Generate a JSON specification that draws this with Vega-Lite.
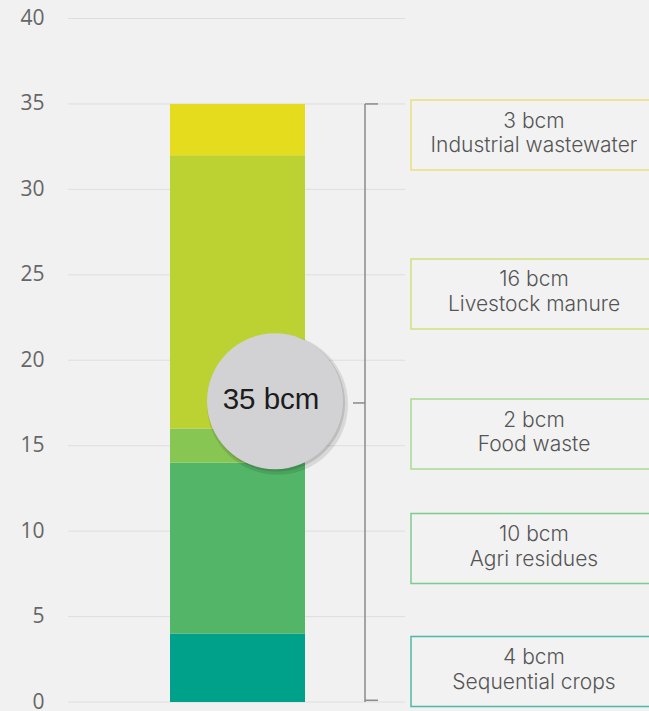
{
  "$schema": "https://vega.github.io/schema/vega-lite/v6.json",
  "width": 581,
  "height": 683.5,
  "autosize": {"type": "none"},
  "padding": {"left": 68, "top": 18.5, "right": 0, "bottom": 9},
  "background": "#f1f1f1",
  "config": {
    "view": {"stroke": null},
    "axisY": {
      "grid": false,
      "domain": false,
      "ticks": false,
      "tickSize": 0,
      "labelOverlap": false,
      "labelPadding": 24,
      "labelFont": "Open Sans",
      "labelFontSize": 21,
      "labelColor": "#666666"
    }
  },
  "datasets": {
    "sources": [
      {"source": "Sequential crops", "bcm": 4, "rank": 1, "labelY": 1.78},
      {"source": "Agri residues", "bcm": 10, "rank": 2, "labelY": 8.98},
      {"source": "Food waste", "bcm": 2, "rank": 3, "labelY": 15.68},
      {"source": "Livestock manure", "bcm": 16, "rank": 4, "labelY": 23.88},
      {"source": "Industrial wastewater", "bcm": 3, "rank": 5, "labelY": 33.18}
    ],
    "total": [{"total": 35}],
    "gridTicks": [
      {"v": 0}, {"v": 5}, {"v": 10}, {"v": 15}, {"v": 20},
      {"v": 25}, {"v": 30}, {"v": 35}, {"v": 40}
    ]
  },
  "layer": [
    {
      "data": {"name": "gridTicks"},
      "mark": {"type": "rule", "color": "#dedede", "strokeWidth": 1},
      "encoding": {
        "x": {"datum": 0, "type": "quantitative", "scale": {"domain": [0, 581], "nice": false, "zero": false}, "axis": null},
        "x2": {"datum": 337, "type": "quantitative"},
        "y": {
          "field": "v",
          "type": "quantitative",
          "scale": {"domain": [0, 40], "nice": false, "zero": true},
          "axis": {"title": null, "values": [0, 5, 10, 15, 20, 25, 30, 35, 40]}
        }
      }
    },
    {
      "data": {"name": "sources"},
      "transform": [
        {"stack": "bcm", "groupby": [], "sort": [{"field": "rank", "order": "ascending"}], "as": ["y0", "y1"]}
      ],
      "mark": {"type": "rect"},
      "encoding": {
        "x": {"datum": 102, "type": "quantitative", "axis": null},
        "x2": {"datum": 237, "type": "quantitative"},
        "y": {"field": "y0", "type": "quantitative", "axis": {"title": null, "values": [0, 5, 10, 15, 20, 25, 30, 35, 40]}},
        "y2": {"field": "y1"},
        "color": {
          "field": "source",
          "type": "nominal",
          "legend": null,
          "scale": {
            "domain": ["Sequential crops", "Agri residues", "Food waste", "Livestock manure", "Industrial wastewater"],
            "range": ["#00a18a", "#53b567", "#88c653", "#bbd232", "#e6dc1e"]
          }
        }
      }
    },
    {
      "data": {"name": "total"},
      "mark": {"type": "rule", "color": "#8a8a8a", "strokeWidth": 1.5},
      "encoding": {
        "x": {"datum": 297, "type": "quantitative", "axis": null},
        "y": {"field": "total", "type": "quantitative", "axis": {"title": null, "values": [0, 5, 10, 15, 20, 25, 30, 35, 40]}},
        "y2": {"datum": 0, "type": "quantitative"}
      }
    },
    {
      "data": {"name": "total"},
      "mark": {"type": "rule", "color": "#8a8a8a", "strokeWidth": 1.5},
      "encoding": {
        "x": {"datum": 297, "type": "quantitative", "axis": null},
        "x2": {"datum": 310, "type": "quantitative"},
        "y": {"field": "total", "type": "quantitative", "axis": {"title": null, "values": [0, 5, 10, 15, 20, 25, 30, 35, 40]}}
      }
    },
    {
      "data": {"name": "total"},
      "mark": {"type": "rule", "color": "#8a8a8a", "strokeWidth": 1.5},
      "encoding": {
        "x": {"datum": 297, "type": "quantitative", "axis": null},
        "x2": {"datum": 310, "type": "quantitative"},
        "y": {"datum": 0.1, "type": "quantitative", "axis": {"title": null, "values": [0, 5, 10, 15, 20, 25, 30, 35, 40]}}
      }
    },
    {
      "data": {"name": "total"},
      "mark": {"type": "rule", "color": "#8a8a8a", "strokeWidth": 1.5},
      "encoding": {
        "x": {"datum": 285, "type": "quantitative", "axis": null},
        "x2": {"datum": 297, "type": "quantitative"},
        "y": {"datum": 17.5, "type": "quantitative", "axis": {"title": null, "values": [0, 5, 10, 15, 20, 25, 30, 35, 40]}}
      }
    },
    {
      "data": {"name": "total"},
      "mark": {"type": "point", "shape": "circle", "filled": true, "size": 19900, "color": "#000000", "opacity": 0.1, "strokeWidth": 0},
      "encoding": {
        "x": {"datum": 209.5, "type": "quantitative", "axis": null},
        "y": {"datum": 17.42, "type": "quantitative", "axis": {"title": null, "values": [0, 5, 10, 15, 20, 25, 30, 35, 40]}}
      }
    },
    {
      "data": {"name": "total"},
      "mark": {"type": "point", "shape": "circle", "filled": true, "size": 18800, "color": "#000000", "opacity": 0.12, "strokeWidth": 0},
      "encoding": {
        "x": {"datum": 208.5, "type": "quantitative", "axis": null},
        "y": {"datum": 17.5, "type": "quantitative", "axis": {"title": null, "values": [0, 5, 10, 15, 20, 25, 30, 35, 40]}}
      }
    },
    {
      "data": {"name": "total"},
      "mark": {"type": "point", "shape": "circle", "filled": true, "size": 18496, "color": "#d2d2d4", "opacity": 1, "strokeWidth": 0},
      "encoding": {
        "x": {"datum": 207, "type": "quantitative", "axis": null},
        "y": {"datum": 17.6, "type": "quantitative", "axis": {"title": null, "values": [0, 5, 10, 15, 20, 25, 30, 35, 40]}}
      }
    },
    {
      "data": {"name": "total"},
      "transform": [{"calculate": "datum.total + ' bcm'", "as": "totalLabel"}],
      "mark": {"type": "text", "font": "Liberation Sans", "fontSize": 29.5, "color": "#1c1c1c", "align": "center", "baseline": "middle"},
      "encoding": {
        "x": {"datum": 203, "type": "quantitative", "axis": null},
        "y": {"datum": 17.65, "type": "quantitative", "axis": {"title": null, "values": [0, 5, 10, 15, 20, 25, 30, 35, 40]}},
        "text": {"field": "totalLabel", "type": "nominal"}
      }
    },
    {
      "data": {"name": "sources"},
      "transform": [
        {"calculate": "datum.labelY + 2.05", "as": "boxTop"},
        {"calculate": "datum.labelY - 2.05", "as": "boxBottom"}
      ],
      "mark": {"type": "rect", "fill": "#f2f2f2", "strokeWidth": 1.5},
      "encoding": {
        "x": {"datum": 343, "type": "quantitative", "axis": null},
        "x2": {"datum": 600, "type": "quantitative"},
        "y": {"field": "boxTop", "type": "quantitative", "axis": {"title": null, "values": [0, 5, 10, 15, 20, 25, 30, 35, 40]}},
        "y2": {"field": "boxBottom"},
        "stroke": {
          "field": "source",
          "type": "nominal",
          "legend": null,
          "scale": {
            "domain": ["Sequential crops", "Agri residues", "Food waste", "Livestock manure", "Industrial wastewater"],
            "range": ["#4db8a6", "#7ccc8e", "#a8da90", "#cfe07c", "#e6e27e"]
          }
        }
      }
    },
    {
      "data": {"name": "sources"},
      "transform": [{"calculate": "datum.bcm + ' bcm'", "as": "amount"}],
      "mark": {"type": "text", "font": "Inter", "fontWeight": 300, "fontSize": 21, "color": "#555555", "align": "center", "baseline": "middle", "dy": -13.5},
      "encoding": {
        "x": {"datum": 466, "type": "quantitative", "axis": null},
        "y": {"field": "labelY", "type": "quantitative", "axis": {"title": null, "values": [0, 5, 10, 15, 20, 25, 30, 35, 40]}},
        "text": {"field": "amount", "type": "nominal"}
      }
    },
    {
      "data": {"name": "sources"},
      "mark": {"type": "text", "font": "Inter", "fontWeight": 300, "fontSize": 21, "color": "#555555", "align": "center", "baseline": "middle", "dy": 11},
      "encoding": {
        "x": {"datum": 466, "type": "quantitative", "axis": null},
        "y": {"field": "labelY", "type": "quantitative", "axis": {"title": null, "values": [0, 5, 10, 15, 20, 25, 30, 35, 40]}},
        "text": {"field": "source", "type": "nominal"}
      }
    }
  ]
}
